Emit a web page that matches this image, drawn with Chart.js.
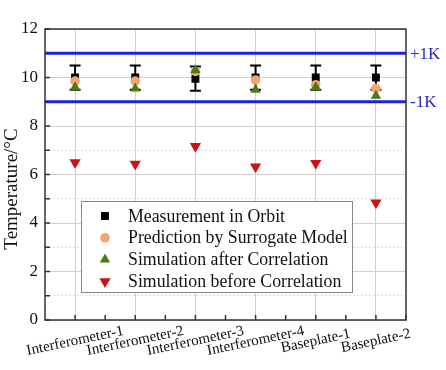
<!DOCTYPE html>
<html>
<head>
<meta charset="utf-8">
<script src="https://cdn.jsdelivr.net/npm/chart.js@4.4.0/dist/chart.umd.min.js"></script>
<style>
  html, body { margin: 0; padding: 0; background: #fff; }
</style>
</head>
<body>
<canvas id="myChart" width="446" height="370"></canvas>
<script>
const locations = ['Interferometer-1', 'Interferometer-2', 'Interferometer-3', 'Interferometer-4', 'Baseplate-1', 'Baseplate-2'];
const measured = [10.0, 10.0, 9.95, 10.0, 10.0, 10.0];
const measuredErr = [0.5, 0.5, 0.5, 0.5, 0.5, 0.5];
const surrogate = [9.85, 9.85, 10.25, 9.9, 9.7, 9.55];
const afterCorr = [9.6, 9.55, 10.3, 9.5, 9.6, 9.25];
const beforeCorr = [6.49, 6.43, 7.17, 6.32, 6.46, 4.84];
const limitLines = [11, 9];
const limitLabels = ['+1K', '-1K'];
const yTicks = [0, 2, 4, 6, 8, 10, 12];

const serif = '"Liberation Serif", "DejaVu Serif", serif';

const datasets = [
  { label: 'Measurement in Orbit', data: measured, pointStyle: 'rect', pointRadius: 5.6, backgroundColor: '#000', borderColor: '#000', order: 4 },
  { label: 'Prediction by Surrogate Model', data: surrogate, pointStyle: 'circle', pointRadius: 4.8, backgroundColor: '#f2a56c', borderColor: '#f2a56c', order: 3 },
  { label: 'Simulation after Correlation', data: afterCorr, pointStyle: 'triangle', pointRadius: 6, backgroundColor: '#4a7a18', borderColor: '#4a7a18', order: 2 },
  { label: 'Simulation before Correlation', data: beforeCorr, pointStyle: 'triangle', rotation: 180, pointRadius: 6.5, backgroundColor: '#cc1212', borderColor: '#cc1212', order: 1 }
];
datasets.forEach(d => { d.showLine = false; d.borderWidth = 0; d.pointHoverRadius = d.pointRadius; d.pointRotation = d.rotation || 0; });

const drawMarker = (ctx, ds, x, y) => {
  Chart.helpers.drawPoint(ctx, {
    pointStyle: ds.pointStyle, rotation: ds.pointRotation, radius: ds.pointRadius, borderWidth: 0
  }, x, y);
};

const extras = {
  id: 'extras',
  beforeDatasetsDraw(chart) {
    const ctx = chart.ctx;
    const area = chart.chartArea;
    const x = chart.scales.x, y = chart.scales.y;
    ctx.save();
    // limit lines
    ctx.strokeStyle = '#1e1ee6';
    ctx.lineWidth = 3;
    limitLines.forEach(v => {
      const py = y.getPixelForValue(v);
      ctx.beginPath(); ctx.moveTo(area.left, py); ctx.lineTo(area.right, py); ctx.stroke();
    });
    // error bars
    ctx.strokeStyle = '#000';
    ctx.lineWidth = 2;
    measured.forEach((v, i) => {
      const px = x.getPixelForValue(i);
      const top = y.getPixelForValue(v + measuredErr[i]);
      const bot = y.getPixelForValue(v - measuredErr[i]);
      ctx.beginPath();
      ctx.moveTo(px, top); ctx.lineTo(px, bot);
      ctx.moveTo(px - 5.5, top); ctx.lineTo(px + 5.5, top);
      ctx.moveTo(px - 5.5, bot); ctx.lineTo(px + 5.5, bot);
      ctx.stroke();
    });
    ctx.restore();
  },
  afterDraw(chart) {
    const ctx = chart.ctx;
    const area = chart.chartArea;
    const x = chart.scales.x, y = chart.scales.y;
    ctx.save();
    // frame
    ctx.strokeStyle = '#333';
    ctx.lineWidth = 1.5;
    ctx.strokeRect(area.left, area.top, area.right - area.left, area.bottom - area.top);
    // inward ticks
    ctx.beginPath();
    for (let v = 0; v <= 12; v++) {
      const py = y.getPixelForValue(v);
      ctx.moveTo(area.left, py); ctx.lineTo(area.left + 5, py);
    }
    const step = x.getPixelForValue(1) - x.getPixelForValue(0);
    locations.forEach((l, i) => {
      const px = x.getPixelForValue(i);
      ctx.moveTo(px, area.bottom); ctx.lineTo(px, area.bottom - 5);
      ctx.moveTo(px + step / 2, area.bottom); ctx.lineTo(px + step / 2, area.bottom - 5);
    });
    ctx.stroke();

    // x labels, rotated about their centre
    ctx.fillStyle = '#111';
    ctx.font = '15px ' + serif;
    ctx.textAlign = 'center';
    ctx.textBaseline = 'middle';
    locations.forEach((l, i) => {
      const px = x.getPixelForValue(i);
      ctx.save();
      ctx.translate(px, area.bottom + 21);
      ctx.rotate(-12 * Math.PI / 180);
      ctx.fillText(l, 0, 0);
      ctx.restore();
    });

    // y title
    ctx.save();
    ctx.font = '19px ' + serif;
    ctx.translate(12, 189);
    ctx.rotate(-Math.PI / 2);
    ctx.fillText('Temperature/\u00B0C', 0, 0);
    ctx.restore();

    // limit labels
    ctx.fillStyle = '#2a2ab4';
    ctx.font = '17px ' + serif;
    ctx.textAlign = 'left';
    limitLines.forEach((v, i) => {
      ctx.fillText(limitLabels[i], area.right + 4, y.getPixelForValue(v) + 1);
    });

    // legend
    const lx = 81, ly = 201, lw = 271, lh = 91;
    ctx.fillStyle = '#fff';
    ctx.fillRect(lx, ly, lw, lh);
    ctx.strokeStyle = '#888';
    ctx.lineWidth = 1;
    ctx.strokeRect(lx + 0.5, ly + 0.5, lw, lh);
    ctx.font = '17.8px ' + serif;
    ctx.textAlign = 'left';
    datasets.forEach((ds, i) => {
      const ry = ly + 15 + i * 21.8;
      ctx.fillStyle = ds.backgroundColor;
      drawMarker(ctx, ds, lx + 24, ry);
      ctx.fillStyle = '#111';
      ctx.fillText(ds.label, lx + 47, ry + 1);
    });
    ctx.restore();
  }
};

new Chart(document.getElementById('myChart'), {
  type: 'line',
  data: { labels: locations, datasets: datasets },
  options: {
    responsive: false,
    animation: false,
    devicePixelRatio: 1,
    layout: { padding: { top: 29, right: 40, left: 0, bottom: 0 } },
    plugins: { legend: { display: false }, tooltip: { enabled: false } },
    scales: {
      x: {
        type: 'category',
        offset: true,
        grid: { offset: false, color: '#cfcfcf', lineWidth: 1, drawTicks: false },
        border: { display: false },
        ticks: { display: false },
        afterFit: s => { s.height = 50; }
      },
      y: {
        min: 0,
        max: 12,
        grid: {
          color: c => (c.tick && c.tick.value % 2) ? '#dddddd' : '#cfcfcf',
          lineWidth: 1,
          drawTicks: false
        },
        border: { display: false, dash: c => (c.tick && c.tick.value % 2) ? [2, 2] : [] },
        ticks: {
          stepSize: 1,
          padding: 7,
          color: '#111',
          font: { family: serif, size: 17 },
          callback: v => yTicks.includes(v) ? v : ''
        },
        afterFit: s => { s.width = 45; }
      }
    }
  },
  plugins: [extras]
});
</script>
</body>
</html>
